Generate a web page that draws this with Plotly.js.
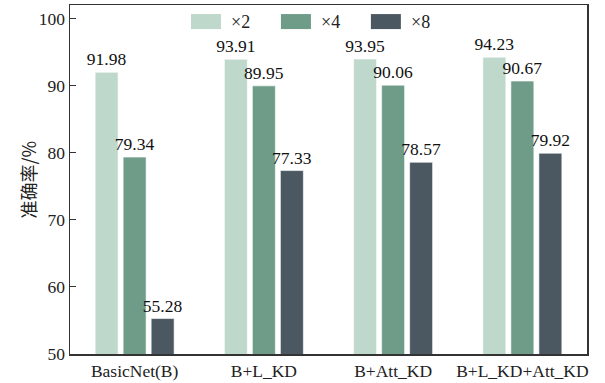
<!DOCTYPE html>
<html>
<head>
<meta charset="utf-8">
<script src="https://cdn.plot.ly/plotly-3.0.1.min.js"></script>
<style>html,body{margin:0;padding:0;background:#fff;}#chart{width:605px;height:383px;}</style>
</head>
<body>
<div id="chart"></div>
<script>
const categories = ["BasicNet(B)", "B+L_KD", "B+Att_KD", "B+L_KD+Att_KD"];
const seriesNames = ["×2", "×4", "×8"];
const x2Values = [91.98, 93.91, 93.95, 94.23];
const x4Values = [79.34, 89.95, 90.06, 90.67];
const x8Values = [55.28, 77.33, 78.57, 79.92];
const yTicks = [50, 60, 70, 80, 90, 100];
const yTitle = "准确率/%";
const colors = ["#bfd8cc", "#6e9c88", "#4b5862"];

const serif = "Liberation Serif";
const seriesValues = [x2Values, x4Values, x8Values];

const traces = seriesValues.map((vals, i) => ({
  type: "bar",
  name: seriesNames[i],
  x: categories,
  y: vals,
  text: vals.map(v => v.toFixed(2)),
  textposition: "outside",
  constraintext: "none",
  cliponaxis: false,
  textfont: {family: serif, size: 17.5, color: "#111"},
  marker: {color: colors[i], line: {color: "#ffffff", width: 0.6}},
  showlegend: false,
  hoverinfo: "skip"
}));

// legend drawn as paper shapes + annotations
const legX = [0.234, 0.408, 0.582];
const symW = 0.058;
const shapes = [];
const annotations = [];
seriesNames.forEach((n, i) => {
  shapes.push({type: "rect", xref: "paper", yref: "paper",
    x0: legX[i], x1: legX[i] + symW, y0: 0.931, y1: 0.974,
    fillcolor: colors[i], line: {width: 0}});
  annotations.push({xref: "paper", yref: "paper", x: legX[i] + symW + 0.016, y: 0.9525,
    xanchor: "left", yanchor: "middle", text: n, showarrow: false,
    font: {family: serif, size: 18, color: "#222"}});
});
// y-axis title
annotations.push({xref: "paper", yref: "paper", x: -0.083, y: 0.5,
  xanchor: "center", yanchor: "middle", textangle: -90, text: yTitle, showarrow: false,
  font: {family: "Noto Sans CJK SC", size: 18, color: "#222"}});

const layout = {
  width: 605, height: 383,
  margin: {l: 70, r: 18, t: 5, b: 29, pad: 0},
  paper_bgcolor: "#fff", plot_bgcolor: "#fff",
  barmode: "group", bargap: 0.35, bargroupgap: 0.18,
  showlegend: false,
  font: {family: serif},
  xaxis: {
    type: "category", range: [-0.5, 3.5],
    showline: true, mirror: true, linecolor: "#333", linewidth: 1.5,
    ticks: "", showgrid: false, zeroline: false,
    tickfont: {family: serif, size: 17.5, color: "#222"}
  },
  yaxis: {
    range: [50, 102], tickvals: yTicks, ticktext: yTicks.map(String),
    showline: true, mirror: true, linecolor: "#333", linewidth: 1.5,
    ticks: "inside", ticklen: 6, tickwidth: 1.2, tickcolor: "#333",
    showgrid: false, zeroline: false,
    tickfont: {family: serif, size: 17.5, color: "#222"}
  },
  shapes: shapes,
  annotations: annotations
};

Plotly.newPlot("chart", traces, layout, {displayModeBar: false, staticPlot: true});
</script>
</body>
</html>
